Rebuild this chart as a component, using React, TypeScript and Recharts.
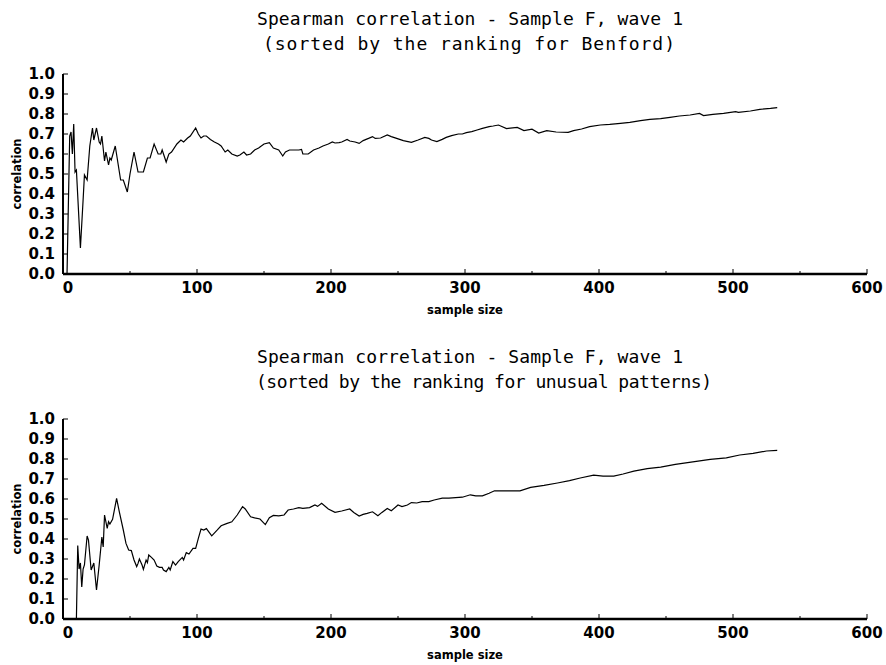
import { Line, LineChart, XAxis, YAxis } from 'recharts'

// sample size / correlation pairs
const benfordSampleSize = [
  3, 5, 6, 7, 8, 9, 10, 13, 15, 16, 18, 20, 22, 23, 25, 27, 28, 29, 31, 32, 34, 35, 36, 39, 43, 45, 48, 50,
  53, 56, 60, 63, 65, 68, 71, 73, 74, 77, 79, 81, 85, 88, 90, 93, 95, 99, 101, 103, 105, 107, 110, 113, 116,
  118, 121, 123, 126, 130, 132, 135, 137, 140, 143, 146, 150, 154, 157, 161, 164, 166, 169, 176, 178, 179,
  183, 187, 191, 194, 198, 201, 203, 206, 208, 212, 214, 218, 221, 224, 228, 231, 233, 237, 242, 245, 249,
  254, 260, 265, 270, 273, 275, 279, 283, 286, 290, 295, 298, 301, 305, 309, 313, 318, 321, 325, 331, 339,
  344, 350, 355, 361, 368, 377, 381, 387, 393, 401, 408, 416, 423, 431, 438, 446, 453, 460, 468, 475, 478,
  485, 493, 502, 504, 513, 520, 528, 533,
]
const benfordCorrelation = [
  0, 0.69, 0.71, 0.6, 0.75, 0.51, 0.52, 0.13, 0.37, 0.495, 0.47, 0.64, 0.73, 0.67, 0.73, 0.66, 0.65, 0.69,
  0.565, 0.61, 0.545, 0.58, 0.57, 0.64, 0.47, 0.47, 0.41, 0.5, 0.61, 0.51, 0.51, 0.58, 0.58, 0.65, 0.6, 0.6,
  0.62, 0.56, 0.6, 0.61, 0.65, 0.67, 0.66, 0.68, 0.69, 0.73, 0.7, 0.68, 0.69, 0.69, 0.673, 0.66, 0.65, 0.64,
  0.61, 0.62, 0.6, 0.59, 0.595, 0.61, 0.595, 0.6, 0.62, 0.63, 0.65, 0.657, 0.63, 0.62, 0.59, 0.61, 0.62, 0.62,
  0.623, 0.6, 0.6, 0.62, 0.63, 0.64, 0.65, 0.66, 0.655, 0.657, 0.66, 0.673, 0.665, 0.66, 0.653, 0.667, 0.678,
  0.687, 0.678, 0.68, 0.695, 0.687, 0.678, 0.667, 0.658, 0.67, 0.683, 0.678, 0.67, 0.662, 0.673, 0.683, 0.692,
  0.7, 0.7, 0.707, 0.712, 0.72, 0.728, 0.737, 0.74, 0.745, 0.727, 0.733, 0.717, 0.724, 0.705, 0.717, 0.71,
  0.708, 0.717, 0.725, 0.737, 0.745, 0.748, 0.753, 0.758, 0.767, 0.773, 0.777, 0.783, 0.79, 0.795, 0.803,
  0.792, 0.798, 0.803, 0.812, 0.808, 0.815, 0.823, 0.828, 0.832,
]

const unusualSampleSize = [
  10, 11, 12, 13, 14, 15, 16, 18, 19, 21, 23, 25, 27, 29, 30, 31, 33, 34, 35, 37, 40, 42, 45, 47, 49, 51, 53,
  55, 56, 57, 59, 60, 62, 63, 64, 66, 68, 70, 72, 74, 75, 77, 79, 80, 82, 84, 86, 89, 90, 92, 94, 97, 99, 101,
  103, 105, 107, 111, 115, 118, 122, 126, 130, 134, 136, 140, 143, 147, 151, 154, 157, 161, 165, 168, 172,
  176, 179, 184, 188, 190, 193, 198, 203, 208, 214, 217, 221, 224, 227, 231, 235, 238, 242, 245, 250, 253,
  257, 260, 264, 268, 273, 277, 283, 288, 293, 298, 304, 308, 313, 318, 322, 334, 341, 349, 359, 369, 378,
  386, 396, 403, 411, 418, 426, 436, 446, 457, 470, 483, 495, 505, 515, 525, 533,
]
const unusualCorrelation = [
  0, 0.367, 0.25, 0.28, 0.16, 0.25, 0.27, 0.415, 0.395, 0.245, 0.28, 0.145, 0.27, 0.41, 0.36, 0.52, 0.453,
  0.487, 0.475, 0.498, 0.603, 0.537, 0.445, 0.378, 0.345, 0.342, 0.295, 0.262, 0.278, 0.3, 0.27, 0.248, 0.295,
  0.282, 0.32, 0.308, 0.295, 0.265, 0.258, 0.258, 0.245, 0.237, 0.258, 0.245, 0.287, 0.27, 0.287, 0.308,
  0.295, 0.332, 0.325, 0.353, 0.353, 0.403, 0.45, 0.445, 0.452, 0.416, 0.444, 0.466, 0.477, 0.486, 0.52,
  0.562, 0.55, 0.511, 0.506, 0.5, 0.472, 0.506, 0.518, 0.516, 0.52, 0.545, 0.55, 0.557, 0.553, 0.557, 0.57,
  0.563, 0.579, 0.55, 0.533, 0.54, 0.55, 0.533, 0.515, 0.523, 0.528, 0.536, 0.516, 0.533, 0.553, 0.541, 0.57,
  0.562, 0.57, 0.582, 0.58, 0.587, 0.587, 0.595, 0.604, 0.604, 0.607, 0.609, 0.621, 0.616, 0.616, 0.629,
  0.641, 0.641, 0.641, 0.658, 0.668, 0.68, 0.692, 0.705, 0.719, 0.714, 0.714, 0.725, 0.739, 0.752, 0.759,
  0.773, 0.786, 0.798, 0.806, 0.82, 0.828, 0.84, 0.843,
]

const sampleTicks = [0, 50, 100, 150, 200, 250, 300, 350, 400, 450, 500, 550, 600]
const correlationTicks = [0, 0.1, 0.2, 0.3, 0.4, 0.5, 0.6, 0.7, 0.8, 0.9, 1.0]

const titleLine = 'Spearman correlation - Sample F, wave 1'
const subtitles = ['(sorted by the ranking for Benford)', '(sorted by the ranking for unusual patterns)']

const tickFont = '"DejaVu Sans", sans-serif'
const titleFont = '"DejaVu Sans Mono", monospace'

// plot frame shared by both panels (panel-relative pixels)
const plotTop = 74
const plotBottom = 274
const plotLeft = 63
const plotRight = 867
const xAxisHeight = 45

type TickProps = {
  x?: number
  y?: number
  payload?: { value: number }
}

function SampleTick({ x = 0, y = 0, payload }: TickProps) {
  const value = payload?.value ?? 0
  const major = value % 100 === 0
  return (
    <g>
      <line x1={x} x2={x} y1={y} y2={y - (major ? 5 : 3)} stroke="#000" strokeWidth={1} />
      {major && (
        <text
          x={value === 0 ? x + 5 : x}
          y={y + 19}
          textAnchor="middle"
          fontFamily={tickFont}
          fontSize={15}
          fontWeight="bold"
          fill="#000"
        >
          {value}
        </text>
      )}
    </g>
  )
}

function CorrelationTick({ x = 0, y = 0, payload }: TickProps) {
  const value = payload?.value ?? 0
  return (
    <g>
      <line x1={x} x2={x + 5} y1={y} y2={y} stroke="#000" strokeWidth={1} />
      <text x={x - 8} y={y + 5} textAnchor="end" fontFamily={tickFont} fontSize={15} fontWeight="bold" fill="#000">
        {value.toFixed(1)}
      </text>
    </g>
  )
}

type PanelProps = {
  top: number
  height: number
  sizes: number[]
  values: number[]
}

function CorrelationPanel({ top, height, sizes, values }: PanelProps) {
  const data = sizes.map((n, i) => ({ n, r: values[i] }))
  return (
    <div style={{ position: 'absolute', left: 0, top }}>
      <LineChart
        width={886}
        height={height}
        data={data}
        margin={{ top: plotTop, right: 886 - plotRight, bottom: height - plotBottom - xAxisHeight, left: 0 }}
      >
        <XAxis
          dataKey="n"
          type="number"
          domain={[0, 600]}
          ticks={sampleTicks}
          interval={0}
          height={xAxisHeight}
          tickSize={0}
          tickMargin={0}
          tickLine={false}
          tick={(props: TickProps) => <SampleTick {...props} />}
          axisLine={{ stroke: '#000', strokeWidth: 2.5 }}
        />
        <YAxis
          type="number"
          domain={[0, 1]}
          ticks={correlationTicks}
          interval={0}
          width={plotLeft}
          tickSize={0}
          tickMargin={0}
          tickLine={false}
          tick={(props: TickProps) => <CorrelationTick {...props} />}
          axisLine={{ stroke: '#000', strokeWidth: 2 }}
        />
        <Line
          dataKey="r"
          type="linear"
          stroke="#000"
          strokeWidth={1.2}
          dot={false}
          isAnimationActive={false}
        />
      </LineChart>
    </div>
  )
}

type PanelTextProps = {
  top: number
  titleBaseline: number
  subtitle: string
  subtitleLeft: number
  subtitleWidth: number
}

function PanelText({ top, titleBaseline, subtitle, subtitleLeft, subtitleWidth }: PanelTextProps) {
  const midX = (plotLeft + plotRight) / 2
  const midY = top + (plotTop + plotBottom) / 2
  return (
    <g fill="#000">
      <text
        x={257}
        y={titleBaseline}
        fontFamily={titleFont}
        fontSize={18}
        textLength={426}
        lengthAdjust="spacing"
      >
        {titleLine}
      </text>
      <text
        x={subtitleLeft}
        y={titleBaseline + 25}
        fontFamily={titleFont}
        fontSize={18}
        textLength={subtitleWidth}
        lengthAdjust="spacing"
      >
        {subtitle}
      </text>
      <text x={midX} y={top + plotBottom + 40} textAnchor="middle" fontFamily={tickFont} fontSize={11.5} fontWeight="bold">
        sample size
      </text>
      <text
        x={21}
        y={midY}
        transform={`rotate(-90, 21, ${midY})`}
        textAnchor="middle"
        fontFamily={tickFont}
        fontSize={11.5}
        fontWeight="bold"
      >
        correlation
      </text>
    </g>
  )
}

export default function App() {
  return (
    <div style={{ position: 'absolute', left: 0, top: 0, width: 886, height: 665, background: '#fff' }}>
      <CorrelationPanel top={0} height={335} sizes={benfordSampleSize} values={benfordCorrelation} />
      <CorrelationPanel top={345} height={320} sizes={unusualSampleSize} values={unusualCorrelation} />
      <svg
        width={886}
        height={665}
        style={{ position: 'absolute', left: 0, top: 0, pointerEvents: 'none' }}
      >
        <PanelText top={0} titleBaseline={25} subtitle={subtitles[0]} subtitleLeft={263} subtitleWidth={412} />
        <PanelText top={345} titleBaseline={363} subtitle={subtitles[1]} subtitleLeft={256} subtitleWidth={456} />
      </svg>
    </div>
  )
}
